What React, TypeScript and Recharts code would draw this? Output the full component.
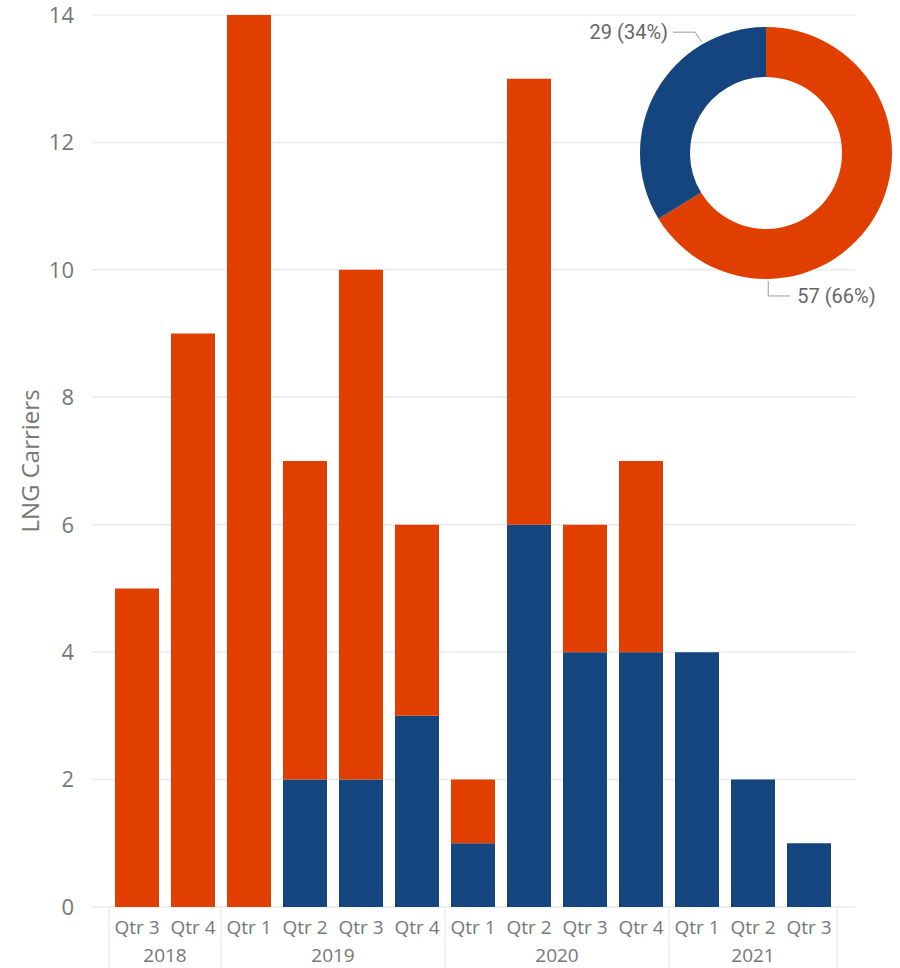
import React from 'react';
import { BarChart, Bar, XAxis, YAxis, CartesianGrid, PieChart, Pie, Cell } from 'recharts';

const quarters = ['Qtr 3', 'Qtr 4', 'Qtr 1', 'Qtr 2', 'Qtr 3', 'Qtr 4', 'Qtr 1', 'Qtr 2', 'Qtr 3', 'Qtr 4', 'Qtr 1', 'Qtr 2', 'Qtr 3'];
const years = ['2018', '2018', '2019', '2019', '2019', '2019', '2020', '2020', '2020', '2020', '2021', '2021', '2021'];
const blueCounts = [0, 0, 0, 2, 2, 3, 1, 6, 4, 4, 4, 2, 1];
const orangeCounts = [5, 9, 14, 5, 8, 3, 1, 7, 2, 3, 0, 0, 0];
const yTicks = [0, 2, 4, 6, 8, 10, 12, 14];

const ORANGE = '#E03F00';
const BLUE = '#15457F';
const TEXT = '#777777';
const FONT = '"Open Sans", "Noto Sans", sans-serif';

// plot geometry: grid runs 92..855, category bands start 17px in
const PLOT_LEFT = 92;
const PLOT_RIGHT = 855;
const PAD_L = 17;
const PAD_R = 18;
const BAND = (PLOT_RIGHT - PLOT_LEFT - PAD_L - PAD_R) / quarters.length;

const barData = quarters.map((q, i) => ({
  period: `${years[i]} ${q}`,
  blue: blueCounts[i],
  orange: orangeCounts[i],
}));

const sum = (arr: number[]) => arr.reduce((a, b) => a + b, 0);
const pieData = [
  { name: 'orange', value: sum(orangeCounts), color: ORANGE },
  { name: 'blue', value: sum(blueCounts), color: BLUE },
];

function QuarterTick(props: any) {
  const { x, y, index } = props;
  const yr = years[index];
  const first = index === 0 || years[index - 1] !== yr;
  const last = index === years.length - 1;
  const count = years.filter((v) => v === yr).length;
  return (
    <g>
      <text x={x} y={y + 20} textAnchor="middle" dominantBaseline="central" fill={TEXT} fontSize={19} fontFamily={FONT}>
        {quarters[index]}
      </text>
      {first && <line x1={x - BAND / 2} x2={x - BAND / 2} y1={y} y2={y + 61} stroke="#e6e6e6" />}
      {last && <line x1={x + BAND / 2} x2={x + BAND / 2} y1={y} y2={y + 61} stroke="#e6e6e6" />}
      {first && (
        <text x={x + ((count - 1) * BAND) / 2} y={y + 48} textAnchor="middle" dominantBaseline="central" fill={TEXT} fontSize={19} fontFamily={FONT}>
          {yr}
        </text>
      )}
    </g>
  );
}

// leader-line anchors for the donut labels
const labelAngles = [-89, 120];

function DonutLabel(props: any) {
  const { cx, cy, outerRadius, index, value, percent } = props;
  const rad = (labelAngles[index] * Math.PI) / 180;
  const px = cx + (outerRadius + 2) * Math.cos(rad);
  const py = cy - (outerRadius + 2) * Math.sin(rad);
  const text = `${value} (${Math.round(percent * 100)}%)`;
  const style = { fill: '#666', fontSize: 20, fontFamily: 'Roboto, sans-serif' };
  if (index === 0) {
    const ly = py + 15;
    return (
      <g>
        <polyline points={`${px},${py} ${px},${ly} ${px + 22},${ly}`} fill="none" stroke="#999" />
        <text x={px + 29} y={ly} dominantBaseline="central" {...style}>{text}</text>
      </g>
    );
  }
  const ly = py - 10;
  return (
    <g>
      <polyline points={`${px},${py} ${px - 7},${ly} ${px - 29},${ly}`} fill="none" stroke="#999" />
      <text x={px - 34} y={ly} textAnchor="end" dominantBaseline="central" {...style}>{text}</text>
    </g>
  );
}

export default function App() {
  return (
    <div style={{ position: 'absolute', left: 0, top: 0, width: 900, height: 968, background: '#fff' }}>
      <BarChart
        width={900}
        height={968}
        data={barData}
        margin={{ top: 15, right: 900 - PLOT_RIGHT, bottom: 0, left: 0 }}
        barSize={44}
      >
        <CartesianGrid vertical={false} stroke="#ebebeb" strokeWidth={1.5} />
        <XAxis
          dataKey="period"
          height={61}
          interval={0}
          axisLine={false}
          tickLine={false}
          tickSize={0}
          tickMargin={0}
          padding={{ left: PAD_L, right: PAD_R }}
          tick={<QuarterTick />}
        />
        <YAxis
          width={PLOT_LEFT}
          domain={[0, 14]}
          ticks={yTicks}
          axisLine={false}
          tickLine={false}
          tickSize={0}
          tickMargin={18}
          tick={{ fill: TEXT, fontSize: 22, fontFamily: FONT }}
          label={(p: any) => {
            const vb = p.viewBox || {};
            const cy = (vb.y ?? 15) + (vb.height ?? 892) / 2;
            return (
              <text x={29} y={cy} transform={`rotate(-90, 29, ${cy})`} textAnchor="middle" dominantBaseline="central" fill={TEXT} fontSize={24} fontFamily={FONT}>
                LNG Carriers
              </text>
            );
          }}
        />
        <Bar dataKey="blue" stackId="s" fill={BLUE} isAnimationActive={false} />
        <Bar dataKey="orange" stackId="s" fill={ORANGE} isAnimationActive={false} />
      </BarChart>
      <div style={{ position: 'absolute', left: 0, top: 0 }}>
        <PieChart width={900} height={330} margin={{ top: 0, right: 0, bottom: 0, left: 0 }}>
          <Pie
            data={pieData}
            dataKey="value"
            cx={766}
            cy={153}
            innerRadius={76}
            outerRadius={126}
            startAngle={90}
            endAngle={-270}
            stroke="none"
            label={DonutLabel}
            labelLine={false}
            isAnimationActive={false}
          >
            {pieData.map((d) => (
              <Cell key={d.name} fill={d.color} />
            ))}
          </Pie>
        </PieChart>
      </div>
    </div>
  );
}
